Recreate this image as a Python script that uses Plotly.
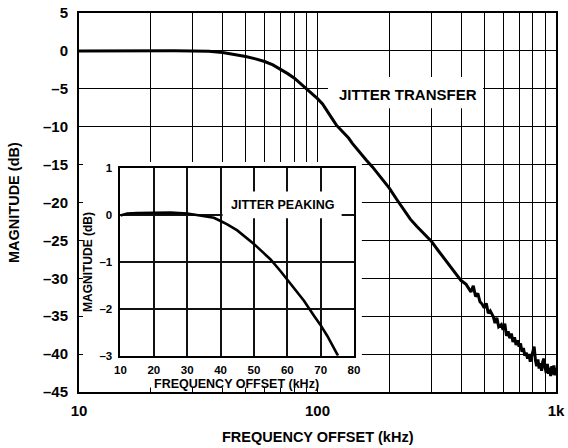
import plotly.graph_objects as go

# ---- main chart data: jitter transfer ----
main_freq_khz = [10, 12, 15, 20, 25, 30, 35, 40, 45, 50, 55, 60, 65, 70, 75, 80, 85, 90, 95, 100,
                 105, 110, 115, 120, 125, 130, 135, 140, 150, 160, 170, 180, 190, 200,
                 215, 230, 245, 260, 280, 300, 320, 340, 360, 380,
                 400, 420, 440, 450, 460, 470, 480, 490, 500, 510, 520, 530, 545, 555, 565, 575,
                 590, 600, 610, 620, 630, 640, 650, 660, 670, 680, 690, 700, 710, 720, 730, 740,
                 750, 760, 770, 780, 790, 800, 810, 820, 830, 840, 850, 860, 870, 880, 890, 900,
                 910, 920, 930, 940, 950, 960, 970, 980, 990, 1000]
main_mag_db = [0.0, 0.02, 0.05, 0.05, 0.03, 0.0, -0.05, -0.2, -0.45, -0.75, -1.05, -1.4, -1.85, -2.4, -3.0, -3.6, -4.3, -5.0, -5.7, -6.3,
               -7.0, -7.9, -8.9, -9.8, -10.4, -10.9, -11.5, -12.2, -13.4, -14.4, -15.3, -16.3, -17.2, -18.1,
               -19.6, -21.0, -22.2, -23.1, -24.2, -25.1, -26.3, -27.4, -28.3, -29.3,
               -30.3, -30.8, -31.8, -31.0, -32.4, -32.0, -33.1, -33.4, -33.9, -33.3, -34.6, -34.3, -35.0, -35.9, -35.2, -36.4,
               -36.1, -36.8, -36.0, -37.6, -37.0, -37.9, -37.3, -38.4, -37.8, -38.8, -38.2, -39.0, -38.6, -39.7, -39.2, -40.2,
               -39.8, -40.6, -40.0, -41.0, -40.3, -39.8, -39.0, -40.8, -41.6, -40.7, -41.9, -41.2, -42.2, -41.0, -40.6, -41.8,
               -42.5, -41.3, -42.6, -41.8, -42.9, -41.6, -42.7, -41.5, -42.8, -41.8]

# ---- inset data: jitter peaking ----
inset_freq_khz = [10, 12, 15, 20, 25, 30, 33, 36, 38, 40, 42, 45, 48, 50, 52, 55, 58, 60, 62, 65, 68, 70, 72, 75.2]
inset_mag_db = [-0.01, 0.03, 0.04, 0.05, 0.05, 0.03, 0.0, -0.03, -0.06, -0.13, -0.2, -0.33, -0.5, -0.62, -0.75,
                -0.95, -1.2, -1.38, -1.55, -1.83, -2.15, -2.35, -2.58, -3.0]

# ---- ticks ----
main_x_grid = [10, 20, 30, 40, 50, 60, 70, 80, 90, 100, 200, 300, 400, 500, 600, 700, 800, 900, 1000]
main_x_labels = {10: "10", 100: "100", 1000: "1k"}
main_y_ticks = [5, 0, -5, -10, -15, -20, -25, -30, -35, -40, -45]
inset_x_ticks = [10, 20, 30, 40, 50, 60, 70, 80]
inset_y_ticks = [1, 0, -1, -2, -3]


def lbl(v):
    return str(v) if v >= 0 else "\u2013" + str(-v)


FONT = "Liberation Sans, Arial, sans-serif"


def bold(size):
    return dict(family=FONT, size=size, color="black", weight="bold")


XMIN, XMAX = 1.0, 3.0      # log10 range of main x axis
YMIN, YMAX = -45.0, 5.0


def mx(frac):  # main-axis domain fraction -> data value (log axis)
    return 10 ** (XMIN + (XMAX - XMIN) * frac)


def my(frac):
    return YMIN + (YMAX - YMIN) * frac


def rect_trace(x0, x1, y0, y1, xa, ya):
    return go.Scatter(x=[x0, x1, x1, x0, x0], y=[y0, y0, y1, y1, y0], mode="lines",
                      fill="toself", fillcolor="white", line=dict(width=0, color="white"),
                      xaxis=xa, yaxis=ya, showlegend=False, hoverinfo="skip")


fig = go.Figure()
# white masks over main grid: pad around inset, box behind label
fig.add_trace(rect_trace(mx(0.002), mx(0.593), my(0.012), my(0.607), "x", "y"))
fig.add_trace(rect_trace(mx(0.522), mx(0.847), my(0.749), my(0.831), "x", "y"))
fig.add_trace(go.Scatter(x=main_freq_khz, y=main_mag_db, mode="lines",
                         line=dict(color="black", width=3), xaxis="x", yaxis="y",
                         showlegend=False, hoverinfo="skip"))
# white mask behind inset label
fig.add_trace(rect_trace(40.6, 76.3, -0.07, 0.5, "x2", "y2"))
fig.add_trace(go.Scatter(x=inset_freq_khz, y=inset_mag_db, mode="lines",
                         line=dict(color="black", width=2.6), xaxis="x2", yaxis="y2",
                         showlegend=False, hoverinfo="skip"))

fig.update_layout(
    width=568, height=448,
    margin=dict(l=79, r=12, t=13, b=56),
    paper_bgcolor="white", plot_bgcolor="white",
    font=bold(15),
    xaxis=dict(type="log", range=[XMIN, XMAX], domain=[0, 1], automargin=False,
               tickmode="array", tickvals=main_x_grid,
               ticktext=[main_x_labels.get(v, "") for v in main_x_grid],
               showgrid=True, gridcolor="black", gridwidth=1.3,
               showline=True, linecolor="black", linewidth=2, mirror=True,
               ticks="inside", ticklen=4, tickcolor="black", tickwidth=1.3,
               ticklabelstandoff=4, tickfont=bold(15), zeroline=False,
               ticklabeloverflow="allow"),
    yaxis=dict(range=[YMIN, YMAX], domain=[0, 1], automargin=False,
               tickmode="array", tickvals=main_y_ticks,
               ticktext=[lbl(v) for v in main_y_ticks],
               showgrid=True, gridcolor="black", gridwidth=1.3,
               showline=True, linecolor="black", linewidth=2, mirror=True,
               ticks="inside", ticklen=4, tickcolor="black", tickwidth=1.3,
               ticklabelstandoff=6, tickfont=bold(15), zeroline=False,
               ticklabeloverflow="allow"),
    xaxis2=dict(range=[10, 80], domain=[0.087, 0.5765], anchor="y2", automargin=False,
                tickmode="array", tickvals=inset_x_ticks,
                ticktext=[str(v) for v in inset_x_ticks],
                showgrid=True, gridcolor="#111", gridwidth=1.6,
                showline=True, linecolor="black", linewidth=2, mirror=True,
                ticks="", ticklabelstandoff=3, tickfont=bold(11.5), zeroline=False),
    yaxis2=dict(range=[-3, 1], domain=[0.0958, 0.591], anchor="x2", automargin=False,
                tickmode="array", tickvals=inset_y_ticks,
                ticktext=[lbl(v) for v in inset_y_ticks],
                showgrid=True, gridcolor="#111", gridwidth=1.6,
                showline=True, linecolor="black", linewidth=2, mirror=True,
                ticks="", ticklabelstandoff=4, tickfont=bold(11.5), zeroline=False),
    annotations=[
        dict(text="FREQUENCY OFFSET (kHz)", xref="paper", yref="paper", x=0.501, y=-0.119,
             showarrow=False, font=bold(14.5), xanchor="center", yanchor="middle"),
        dict(text="MAGNITUDE (dB)", xref="paper", yref="paper", x=-0.136, y=0.499,
             showarrow=False, font=bold(14.5), textangle=-90, xanchor="center", yanchor="middle"),
        dict(text="FREQUENCY OFFSET (kHz)", xref="paper", yref="paper", x=0.331, y=0.021,
             showarrow=False, font=bold(12.5), xanchor="center", yanchor="middle"),
        dict(text="MAGNITUDE (dB)", xref="paper", yref="paper", x=0.0189, y=0.343,
             showarrow=False, font=bold(12), textangle=-90, xanchor="center", yanchor="middle"),
        dict(text="JITTER TRANSFER", xref="paper", yref="paper", x=0.690, y=0.784,
             showarrow=False, font=bold(15), xanchor="center", yanchor="middle"),
        dict(text="JITTER PEAKING", xref="x2", yref="y2", x=58.6, y=0.213,
             showarrow=False, font=bold(12.5), xanchor="center", yanchor="middle"),
    ],
)

# remove the browser's default 8px body margin so the figure fills the window exactly
fig.write_html("out.html", config={"displayModeBar": False},
               post_script="document.body.style.margin='0';")
